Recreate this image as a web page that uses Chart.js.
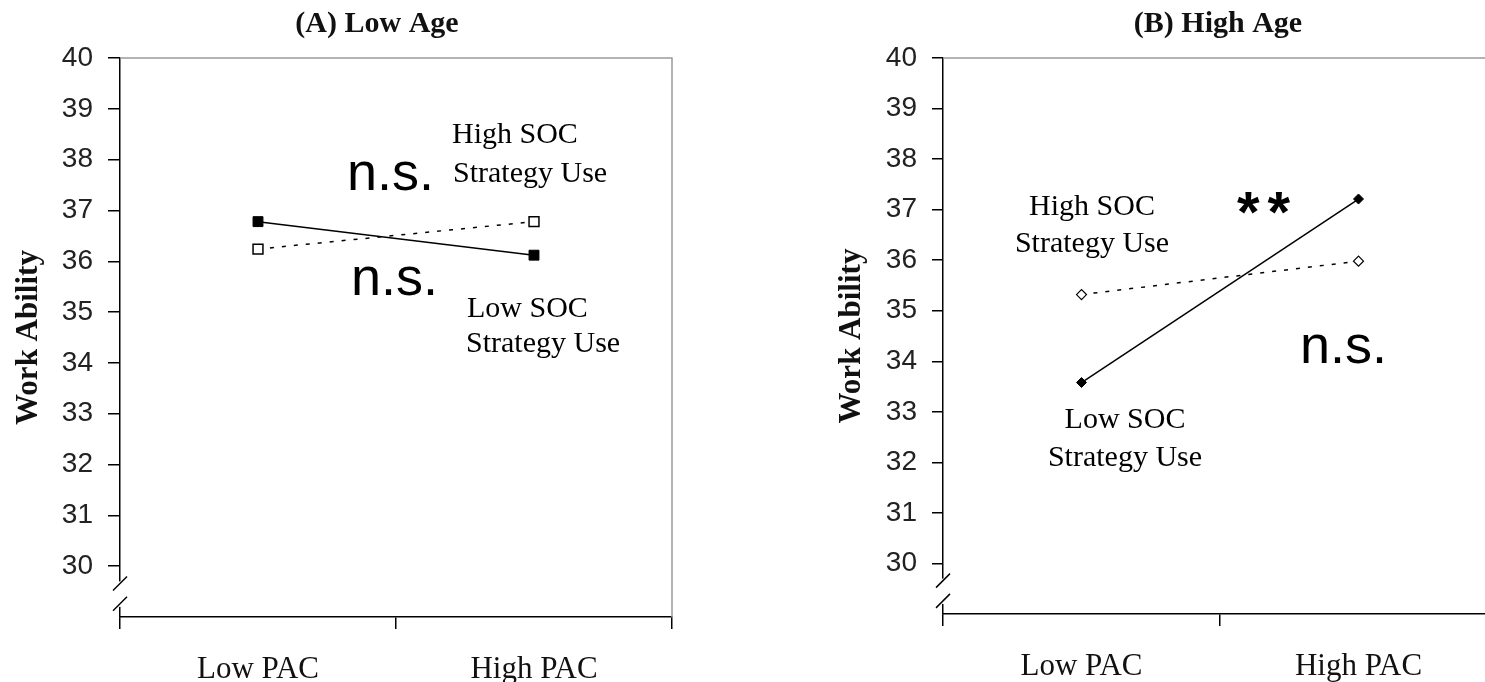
<!DOCTYPE html>
<html>
<head>
<meta charset="utf-8">
<script src="https://cdn.jsdelivr.net/npm/chart.js@4.4.1/dist/chart.umd.min.js"></script>
<style>
html, body { margin: 0; padding: 0; background: #fff; overflow: hidden; width: 1485px; height: 682px; }
.panel { position: absolute; top: 0; height: 682px; }
#boxA { left: 0; width: 740px; }
#boxB { left: 780px; width: 780px; }
</style>
</head>
<body>
<div class="panel" id="boxA"><canvas id="lowAgeChart"></canvas></div>
<div class="panel" id="boxB"><canvas id="highAgeChart"></canvas></div>
<script>
var categories = ['Low PAC', 'High PAC'];
var yTicks = [30, 31, 32, 33, 34, 35, 36, 37, 38, 39, 40];

var lowAgeLowSOC = [36.78, 36.12];
var lowAgeHighSOC = [36.24, 36.78];
var highAgeLowSOC = [33.58, 37.21];
var highAgeHighSOC = [35.32, 35.98];

var SANS = "'Liberation Sans', Arial, sans-serif";
var SERIF = "'Liberation Serif', 'Times New Roman', serif";

// gray frame (top + right), axis break on y, title and text notes
var extras = {
    id: 'extras',
    beforeDatasetsDraw: function (chart) {
        var a = chart.chartArea, ctx = chart.ctx;
        ctx.save();
        ctx.strokeStyle = '#9a9a9a';
        ctx.lineWidth = 1.5;
        ctx.beginPath();
        ctx.moveTo(a.left, a.top);
        ctx.lineTo(a.right, a.top);
        ctx.lineTo(a.right, a.bottom);
        ctx.stroke();
        ctx.restore();
    },
    afterDraw: function (chart, args, opts) {
        var ctx = chart.ctx, y = chart.scales.y, left = chart.chartArea.left;
        ctx.save();
        // break in the y axis
        ctx.fillStyle = '#fff';
        var g1 = y.getPixelForValue(29.7), g2 = y.getPixelForValue(29.2);
        ctx.fillRect(left - 3, g1, 6, g2 - g1);
        ctx.strokeStyle = '#000';
        ctx.lineWidth = 1.5;
        [29.66, 29.26].forEach(function (v) {
            var c = y.getPixelForValue(v);
            ctx.beginPath();
            ctx.moveTo(left - 7, c + 7);
            ctx.lineTo(left + 7, c - 7);
            ctx.stroke();
        });
        // title
        ctx.fillStyle = '#111';
        ctx.textBaseline = 'alphabetic';
        ctx.textAlign = 'center';
        ctx.font = 'bold 30px ' + SERIF;
        ctx.fillText(opts.title, opts.titleX, 32);
        // notes
        opts.notes.forEach(function (n) {
            ctx.font = n.font;
            ctx.textAlign = n.align || 'left';
            ctx.letterSpacing = n.spacing || '0px';
            ctx.fillStyle = '#000';
            ctx.fillText(n.text, n.x, n.y);
        });
        ctx.restore();
    }
};

new Chart('lowAgeChart', {
    type: 'line',
    data: {
        labels: categories,
        datasets: [
            {
                label: 'Low SOC Strategy Use',
                data: lowAgeLowSOC,
                borderColor: '#000',
                borderWidth: 1.5,
                pointStyle: 'rect',
                pointRadius: 7,
                pointBackgroundColor: '#000',
                pointBorderColor: '#000',
                pointBorderWidth: 1
            },
            {
                label: 'High SOC Strategy Use',
                data: lowAgeHighSOC,
                borderColor: '#000',
                borderWidth: 1.5,
                borderDash: [4, 8],
                pointStyle: 'rect',
                pointRadius: 7,
                pointBackgroundColor: '#fff',
                pointBorderColor: '#000',
                pointBorderWidth: 1.5
            }
        ]
    },
    options: {
        responsive: true,
        maintainAspectRatio: false,
        animation: false,
        layout: { padding: { top: 58, right: 68, bottom: 0, left: 0 } },
        scales: {
            x: {
                offset: true,
                afterFit: function (scale) { scale.height = 65; },
                grid: { offset: true, drawOnChartArea: false, tickLength: 12, color: '#000', lineWidth: 1.5 },
                border: { color: '#000', width: 1.5 },
                ticks: { padding: 22, color: '#111', font: { family: SERIF, size: 31 } }
            },
            y: {
                min: 29,
                max: 40,
                afterBuildTicks: function (scale) {
                    scale.ticks = yTicks.map(function (v) { return { value: v }; });
                },
                afterFit: function (scale) { scale.width = 120; },
                grid: { drawOnChartArea: false, tickLength: 12, color: '#000', lineWidth: 1.5 },
                border: { color: '#000', width: 1.5 },
                ticks: { padding: 15, color: '#222', font: { family: SANS, size: 28 } },
                title: {
                    display: true,
                    text: 'Work Ability',
                    color: '#111',
                    font: { family: SERIF, size: 31, weight: 'bold' },
                    padding: { top: 10, bottom: 0 }
                }
            }
        },
        plugins: {
            legend: { display: false },
            tooltip: { enabled: false },
            extras: {
                title: '(A) Low Age',
                titleX: 377,
                notes: [
                    { text: 'High SOC', x: 452, y: 143, font: '30px ' + SERIF },
                    { text: 'Strategy Use', x: 453, y: 182, font: '30px ' + SERIF },
                    { text: 'n.s.', x: 347, y: 190, font: '54px ' + SANS },
                    { text: 'n.s.', x: 351, y: 295, font: '54px ' + SANS },
                    { text: 'Low SOC', x: 467, y: 317, font: '30px ' + SERIF },
                    { text: 'Strategy Use', x: 466, y: 352, font: '30px ' + SERIF }
                ]
            }
        }
    },
    plugins: [extras]
});

new Chart('highAgeChart', {
    type: 'line',
    data: {
        labels: categories,
        datasets: [
            {
                label: 'Low SOC Strategy Use',
                data: highAgeLowSOC,
                borderColor: '#000',
                borderWidth: 1.5,
                pointStyle: 'rectRot',
                pointRadius: 5,
                pointBackgroundColor: '#000',
                pointBorderColor: '#000',
                pointBorderWidth: 1
            },
            {
                label: 'High SOC Strategy Use',
                data: highAgeHighSOC,
                borderColor: '#000',
                borderWidth: 1.5,
                borderDash: [4, 8],
                pointStyle: 'rectRot',
                pointRadius: 5,
                pointBackgroundColor: '#fff',
                pointBorderColor: '#000',
                pointBorderWidth: 1.2
            }
        ]
    },
    options: {
        responsive: true,
        maintainAspectRatio: false,
        animation: false,
        layout: { padding: { top: 58, right: 63, bottom: 0, left: 0 } },
        scales: {
            x: {
                offset: true,
                afterFit: function (scale) { scale.height = 68; },
                grid: { offset: true, drawOnChartArea: false, tickLength: 12, color: '#000', lineWidth: 1.5 },
                border: { color: '#000', width: 1.5 },
                ticks: { padding: 22, color: '#111', font: { family: SERIF, size: 31 } }
            },
            y: {
                min: 29,
                max: 40,
                afterBuildTicks: function (scale) {
                    scale.ticks = yTicks.map(function (v) { return { value: v }; });
                },
                afterFit: function (scale) { scale.width = 163; },
                grid: { drawOnChartArea: false, tickLength: 11, color: '#000', lineWidth: 1.5 },
                border: { color: '#000', width: 1.5 },
                ticks: { padding: 15, color: '#222', font: { family: SANS, size: 28 } },
                title: {
                    display: true,
                    text: 'Work Ability',
                    color: '#111',
                    font: { family: SERIF, size: 31, weight: 'bold' },
                    padding: { top: 53, bottom: 0 }
                }
            }
        },
        plugins: {
            legend: { display: false },
            tooltip: { enabled: false },
            extras: {
                title: '(B) High Age',
                titleX: 438,
                notes: [
                    { text: 'High SOC', x: 312, y: 215, font: '30px ' + SERIF, align: 'center' },
                    { text: 'Strategy Use', x: 312, y: 252, font: '30px ' + SERIF, align: 'center' },
                    { text: '**', x: 457, y: 232, font: 'bold 58px ' + SANS, spacing: '8px' },
                    { text: 'n.s.', x: 520, y: 363, font: '54px ' + SANS },
                    { text: 'Low SOC', x: 345, y: 428, font: '30px ' + SERIF, align: 'center' },
                    { text: 'Strategy Use', x: 345, y: 466, font: '30px ' + SERIF, align: 'center' }
                ]
            }
        }
    },
    plugins: [extras]
});
</script>
</body>
</html>
